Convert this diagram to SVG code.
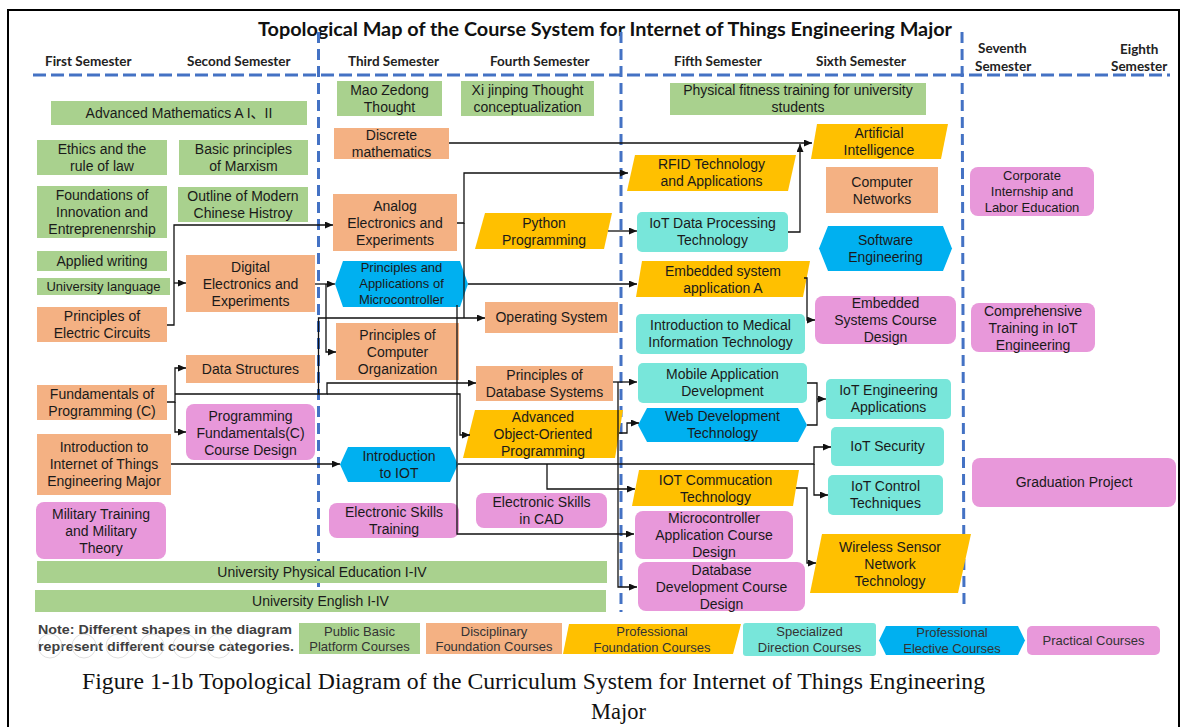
<svg xmlns="http://www.w3.org/2000/svg" width="1184" height="727" viewBox="0 0 1184 727">
<style>
  .g{fill:#A9D18E}
  .o{fill:#F4B183}
  .y{fill:#FFC000}
  .t{fill:#78E6DA}
  .b{fill:#00B0F0}
  .p{fill:#E898DA}
  text{font-family:"Liberation Sans",Arial,"Noto Sans CJK SC",sans-serif;font-size:14px;fill:#1a1a1a}
  .n{text-anchor:middle}
  .s13{font-size:13px}
  .hd{font-family:Lato,"Liberation Sans",sans-serif;font-weight:bold;font-size:13.5px;fill:#222}
  .title{font-family:Lato,"Liberation Sans",sans-serif;font-weight:bold;font-size:18.5px;fill:#111}
  .note{font-weight:bold;font-size:12.5px;fill:#404040}
  .cap{font-family:"Liberation Serif","Times New Roman",serif;font-size:22.5px;fill:#111}
  .lg{font-size:13px;fill:#333;text-anchor:middle}
  .dash{stroke:#4472C4;stroke-width:3;fill:none}
  .dh{stroke-dasharray:13 5}
  .dv{stroke-dasharray:11 6}
  #connectors path{fill:none;stroke:#111;stroke-width:1.3;marker-end:url(#arr)}
  #connectors path.nm{marker-end:none}
</style>
<defs>
  <marker id="arr" markerUnits="userSpaceOnUse" markerWidth="9" markerHeight="8" refX="8" refY="3.5" orient="auto">
    <path d="M0,0 L8,3.5 L0,7 Z" fill="#111"/>
  </marker>
</defs>
<rect width="1184" height="727" fill="#fff"/>
<rect x="8" y="10" width="1171" height="740" fill="none" stroke="#000" stroke-width="2"/>

<!-- heading -->
<text class="title" x="258" y="36" textLength="694" lengthAdjust="spacingAndGlyphs">Topological Map of the Course System for Internet of Things Engineering Major</text>

<!-- semester headers -->
<g id="semesters">
  <text class="hd" x="45" y="66">First Semester</text>
  <text class="hd" x="187" y="66">Second Semester</text>
  <text class="hd" x="348" y="66">Third Semester</text>
  <text class="hd" x="490" y="66">Fourth Semester</text>
  <text class="hd" x="674" y="66">Fifth Semester</text>
  <text class="hd" x="816" y="66">Sixth Semester</text>
  <text class="hd" x="978" y="53">Seventh</text>
  <text class="hd" x="975" y="71">Semester</text>
  <text class="hd" x="1120" y="54">Eighth</text>
  <text class="hd" x="1111" y="71">Semester</text>
</g>

<!-- semester dividers -->
<g id="dividers">
  <line class="dash dh" x1="33" y1="75" x2="1170" y2="75"/>
  <line class="dash dv" x1="318.5" y1="32" x2="318.5" y2="588"/>
  <line class="dash dv" x1="621" y1="32" x2="621" y2="612"/>
  <line class="dash dv" x1="962" y1="32" x2="964" y2="607"/>
</g>

<!-- public basic platform courses -->
<g id="adv-math"><rect class="g" x="51" y="101" width="256" height="24"/><text class="n" x="179" y="118">Advanced Mathematics A I、II</text></g>
<g id="ethics"><rect class="g" x="37" y="140" width="130" height="35"/><text class="n"><tspan x="102" y="154">Ethics and the</tspan><tspan x="102" y="171">rule of law</tspan></text></g>
<g id="marxism"><rect class="g" x="179" y="140" width="129" height="35"/><text class="n"><tspan x="243.5" y="154">Basic principles</tspan><tspan x="243.5" y="171">of Marxism</tspan></text></g>
<g id="innovation"><rect class="g" x="37" y="186" width="130" height="52"/><text class="n"><tspan x="102" y="200">Foundations of</tspan><tspan x="102" y="217">Innovation and</tspan><tspan x="102" y="234">Entreprenenrship</tspan></text></g>
<g id="history"><rect class="g" x="178" y="187" width="130" height="35"/><text class="n"><tspan x="243" y="201">Outline of Modern</tspan><tspan x="243" y="218">Chinese Histroy</tspan></text></g>
<g id="writing"><rect class="g" x="37" y="251" width="130" height="20"/><text class="n" x="102" y="266">Applied writing</text></g>
<g id="language"><rect class="g" x="37" y="278" width="133" height="17"/><text class="n s13" x="103.5" y="291">University language</text></g>
<g id="mao"><rect class="g" x="337" y="81" width="105" height="35"/><text class="n"><tspan x="389.5" y="95">Mao Zedong</tspan><tspan x="389.5" y="112">Thought</tspan></text></g>
<g id="xi"><rect class="g" x="461" y="81" width="133" height="35"/><text class="n"><tspan x="527.5" y="95">Xi jinping Thought</tspan><tspan x="527.5" y="112">conceptualization</tspan></text></g>
<g id="fitness"><rect class="g" x="670" y="83" width="256" height="32"/><text class="n"><tspan x="798" y="95">Physical fitness training for university</tspan><tspan x="798" y="112">students</tspan></text></g>
<g id="phys-ed"><rect class="g" x="37" y="561" width="570" height="22"/><text class="n" x="322" y="577">University Physical Education I-IV</text></g>
<g id="english"><rect class="g" x="35" y="590" width="571" height="22"/><text class="n" x="320.5" y="606">University English I-IV</text></g>

<!-- disciplinary foundation courses -->
<g id="discrete"><rect class="o" x="334" y="128" width="115" height="31"/><text class="n"><tspan x="391.5" y="140">Discrete</tspan><tspan x="391.5" y="157">mathematics</tspan></text></g>
<g id="analog"><rect class="o" x="333" y="194" width="124" height="57"/><text class="n"><tspan x="395" y="211">Analog</tspan><tspan x="395" y="228">Electronics and</tspan><tspan x="395" y="245">Experiments</tspan></text></g>
<g id="digital"><rect class="o" x="186" y="255" width="129" height="57"/><text class="n"><tspan x="250.5" y="272">Digital</tspan><tspan x="250.5" y="289">Electronics and</tspan><tspan x="250.5" y="306">Experiments</tspan></text></g>
<g id="circuits"><rect class="o" x="37" y="307" width="130" height="35"/><text class="n"><tspan x="102" y="321">Principles of</tspan><tspan x="102" y="338">Electric Circuits</tspan></text></g>
<g id="data-structures"><rect class="o" x="186" y="355" width="129" height="28"/><text class="n" x="250.5" y="374">Data Structures</text></g>
<g id="programming-c"><rect class="o" x="37" y="385" width="130" height="35"/><text class="n"><tspan x="102" y="399">Fundamentals of</tspan><tspan x="102" y="416">Programming (C)</tspan></text></g>
<g id="intro-major"><rect class="o" x="37" y="434" width="134" height="61"/><text class="n"><tspan x="104" y="452">Introduction to</tspan><tspan x="104" y="469">Internet of Things</tspan><tspan x="104" y="486">Engineering Major</tspan></text></g>
<g id="os"><rect class="o" x="485" y="302" width="133" height="31"/><text class="n" x="551.5" y="322">Operating System</text></g>
<g id="comp-org"><rect class="o" x="336" y="323" width="123" height="57"/><text class="n"><tspan x="397.5" y="340">Principles of</tspan><tspan x="397.5" y="357">Computer</tspan><tspan x="397.5" y="374">Organization</tspan></text></g>
<g id="database"><rect class="o" x="476" y="366" width="137" height="35"/><text class="n"><tspan x="544.5" y="380">Principles of</tspan><tspan x="544.5" y="397">Database Systems</tspan></text></g>
<g id="networks"><rect class="o" x="826" y="167" width="112" height="46"/><text class="n"><tspan x="882" y="187">Computer</tspan><tspan x="882" y="204">Networks</tspan></text></g>

<!-- professional foundation courses -->
<g id="ai"><polygon class="y" points="817,124 948,124 941,159 811,159"/><text class="n"><tspan x="879" y="138">Artificial</tspan><tspan x="879" y="155">Intelligence</tspan></text></g>
<g id="rfid"><polygon class="y" points="635,155 796,155 788,191 627,191"/><text class="n"><tspan x="711.5" y="169">RFID Technology</tspan><tspan x="711.5" y="186">and Applications</tspan></text></g>
<g id="python"><polygon class="y" points="485,213 612,213 604,249 475,249"/><text class="n"><tspan x="544" y="228">Python</tspan><tspan x="544" y="245">Programming</tspan></text></g>
<g id="embedded-a"><polygon class="y" points="642,261 810,261 803,297 636,297"/><text class="n"><tspan x="723" y="276">Embedded system</tspan><tspan x="723" y="293">application A</tspan></text></g>
<g id="oop"><polygon class="y" points="475,410 623,410 615,458 463,458"/><text class="n"><tspan x="543" y="422">Advanced</tspan><tspan x="543" y="439">Object-Oriented</tspan><tspan x="543" y="456">Programming</tspan></text></g>
<g id="iot-comm"><polygon class="y" points="639,470 799,470 793,506 632,506"/><text class="n"><tspan x="715.5" y="485">IOT Commucation</tspan><tspan x="715.5" y="502">Technology</tspan></text></g>
<g id="wsn"><polygon class="y" points="822,534 971,534 958,593 810,593"/><text class="n"><tspan x="890" y="552">Wireless Sensor</tspan><tspan x="890" y="569">Network</tspan><tspan x="890" y="586">Technology</tspan></text></g>

<!-- specialized direction courses -->
<g id="iot-data"><rect class="t" x="637" y="212" width="151" height="40" rx="5"/><text class="n"><tspan x="712.5" y="228">IoT Data Processing</tspan><tspan x="712.5" y="245">Technology</tspan></text></g>
<g id="medical"><rect class="t" x="636" y="314" width="169" height="40" rx="5"/><text class="n"><tspan x="720.5" y="330">Introduction to Medical</tspan><tspan x="720.5" y="347">Information Technology</tspan></text></g>
<g id="mobile"><rect class="t" x="638" y="363" width="169" height="40" rx="5"/><text class="n"><tspan x="722.5" y="379">Mobile Application</tspan><tspan x="722.5" y="396">Development</tspan></text></g>
<g id="iot-apps"><rect class="t" x="826" y="379" width="125" height="40" rx="5"/><text class="n"><tspan x="888.5" y="395">IoT Engineering</tspan><tspan x="888.5" y="412">Applications</tspan></text></g>
<g id="iot-security"><rect class="t" x="831" y="427" width="113" height="39" rx="5"/><text class="n" x="887.5" y="451">IoT Security</text></g>
<g id="iot-control"><rect class="t" x="828" y="475" width="115" height="40" rx="5"/><text class="n"><tspan x="885.5" y="491">IoT Control</tspan><tspan x="885.5" y="508">Techniques</tspan></text></g>

<!-- professional elective courses -->
<g id="mcu"><polygon class="b" points="335,284 343,261 460,261 468,284 460,307 343,307"/><text class="n s13"><tspan x="401.5" y="272">Principles and</tspan><tspan x="401.5" y="288">Applications of</tspan><tspan x="401.5" y="304">Microcontroller</tspan></text></g>
<g id="intro-iot"><polygon class="b" points="340,464.5 348,447 450,447 458,464.5 450,482 348,482"/><text class="n"><tspan x="399" y="461">Introduction</tspan><tspan x="399" y="478">to IOT</tspan></text></g>
<g id="software"><polygon class="b" points="819,248.5 828,226 943,226 952,248.5 943,271 828,271"/><text class="n"><tspan x="885.5" y="245">Software</tspan><tspan x="885.5" y="262">Engineering</tspan></text></g>
<g id="web"><polygon class="b" points="638,425 647,408 798,408 807,425 798,442 647,442"/><text class="n"><tspan x="722.5" y="421">Web Development</tspan><tspan x="722.5" y="438">Technology</tspan></text></g>

<!-- practical courses -->
<g id="internship"><rect class="p" x="970" y="167" width="124" height="49" rx="8"/><text class="n s13"><tspan x="1032" y="180">Corporate</tspan><tspan x="1032" y="196">Internship and</tspan><tspan x="1032" y="212">Labor Education</tspan></text></g>
<g id="comprehensive"><rect class="p" x="971" y="303" width="124" height="49" rx="8"/><text class="n"><tspan x="1033" y="316">Comprehensive</tspan><tspan x="1033" y="333">Training in IoT</tspan><tspan x="1033" y="350">Engineering</tspan></text></g>
<g id="graduation"><rect class="p" x="972" y="458" width="204" height="49" rx="8"/><text class="n" x="1074" y="487">Graduation Project</text></g>
<g id="embedded-design"><rect class="p" x="815" y="296" width="141" height="48" rx="8"/><text class="n"><tspan x="885.5" y="308">Embedded</tspan><tspan x="885.5" y="325">Systems Course</tspan><tspan x="885.5" y="342">Design</tspan></text></g>
<g id="prog-design"><rect class="p" x="186" y="404" width="129" height="56" rx="8"/><text class="n"><tspan x="250.5" y="421">Programming</tspan><tspan x="250.5" y="438">Fundamentals(C)</tspan><tspan x="250.5" y="455">Course Design</tspan></text></g>
<g id="military"><rect class="p" x="36" y="502" width="130" height="57" rx="8"/><text class="n"><tspan x="101" y="519">Military Training</tspan><tspan x="101" y="536">and Military</tspan><tspan x="101" y="553">Theory</tspan></text></g>
<g id="skills-training"><rect class="p" x="329" y="503" width="130" height="35" rx="8"/><text class="n"><tspan x="394" y="517">Electronic Skills</tspan><tspan x="394" y="534">Training</tspan></text></g>
<g id="skills-cad"><rect class="p" x="476" y="493" width="131" height="35" rx="8"/><text class="n"><tspan x="541.5" y="507">Electronic Skills</tspan><tspan x="541.5" y="524">in CAD</tspan></text></g>
<g id="mcu-design"><rect class="p" x="635" y="511" width="158" height="48" rx="8"/><text class="n"><tspan x="714" y="523">Microcontroller</tspan><tspan x="714" y="540">Application Course</tspan><tspan x="714" y="557">Design</tspan></text></g>
<g id="db-design"><rect class="p" x="638" y="562" width="167" height="49" rx="8"/><text class="n"><tspan x="721.5" y="575">Database</tspan><tspan x="721.5" y="592">Development Course</tspan><tspan x="721.5" y="609">Design</tspan></text></g>

<!-- prerequisite links -->
<g id="connectors">
  <path d="M167,325 H174 V225 H333"/>
  <path d="M174,283 H186"/>
  <path d="M315,284 H335"/>
  <path d="M326,284 V352 H336"/>
  <path d="M167,402 H175 V368 H186"/>
  <path d="M175,402 V432 H186"/>
  <path d="M175,394 H318.5 V318 H485"/>
  <path d="M318.5,394 H327 V383 H476"/>
  <path d="M327,394 H460 V435 H470"/>
  <path d="M457,223 H464 V173 H628"/>
  <path class="nm" d="M464,223 V318"/>
  <path d="M468,284 H637"/>
  <path d="M457,305 V534 H634"/>
  <path d="M449,143 H812"/>
  <path d="M788,232 H800 V144"/>
  <path d="M608,231 H637"/>
  <path d="M804,278 H807 V320 H815"/>
  <path d="M613,382 H637"/>
  <path d="M618,382 V587 H637"/>
  <path d="M619,433 H627 V423 H639"/>
  <path class="nm" d="M807,383 H817 V425 H807"/>
  <path d="M817,399 H826"/>
  <path d="M171,464 H340"/>
  <path d="M458,464 H814 V447 H831"/>
  <path d="M814,464 V495 H828"/>
  <path d="M547,464 V489 H635"/>
  <path d="M796,488 H807 V563 H816"/>
</g>

<!-- category key -->
<g id="key">
  <text class="note" x="38" y="634" textLength="254" lengthAdjust="spacingAndGlyphs">Note: Different shapes in the diagram</text>
  <text class="note" x="38" y="651" textLength="256" lengthAdjust="spacingAndGlyphs">represent different course categories.</text>
  <g fill="none" stroke="#d9d9d9" stroke-width="1" opacity="0.8">
    <circle cx="50" cy="646" r="12"/><circle cx="84" cy="646" r="12"/><circle cx="118" cy="646" r="12"/>
    <circle cx="152" cy="646" r="12"/><circle cx="185" cy="646" r="12"/><circle cx="219" cy="646" r="12"/>
  </g>
  <g id="key-public"><rect class="g" x="299" y="623" width="121" height="31"/><text class="lg"><tspan x="359.5" y="636">Public Basic</tspan><tspan x="359.5" y="651">Platform Courses</tspan></text></g>
  <g id="key-disciplinary"><rect class="o" x="426" y="623" width="136" height="31"/><text class="lg"><tspan x="494" y="636">Disciplinary</tspan><tspan x="494" y="651">Foundation Courses</tspan></text></g>
  <g id="key-professional"><polygon class="y" points="569,624 741,624 733,654 563,654"/><text class="lg"><tspan x="652" y="636">Professional</tspan><tspan x="652" y="652">Foundation Courses</tspan></text></g>
  <g id="key-specialized"><rect class="t" x="743" y="623" width="133" height="33" rx="3"/><text class="lg"><tspan x="809.5" y="636">Specialized</tspan><tspan x="809.5" y="652">Direction Courses</tspan></text></g>
  <g id="key-elective"><polygon class="b" points="879,640.5 886,626 1018,626 1025,640.5 1018,655 886,655"/><text class="lg"><tspan x="952" y="637">Professional</tspan><tspan x="952" y="653">Elective Courses</tspan></text></g>
  <g id="key-practical"><rect class="p" x="1027" y="626" width="133" height="29" rx="5"/><text class="lg" x="1093.5" y="645">Practical Courses</text></g>
</g>

<!-- figure caption -->
<text class="cap" x="82" y="689" textLength="903" lengthAdjust="spacingAndGlyphs">Figure 1-1b Topological Diagram of the Curriculum System for Internet of Things Engineering</text>
<text class="cap" x="591" y="719">Major</text>
</svg>
